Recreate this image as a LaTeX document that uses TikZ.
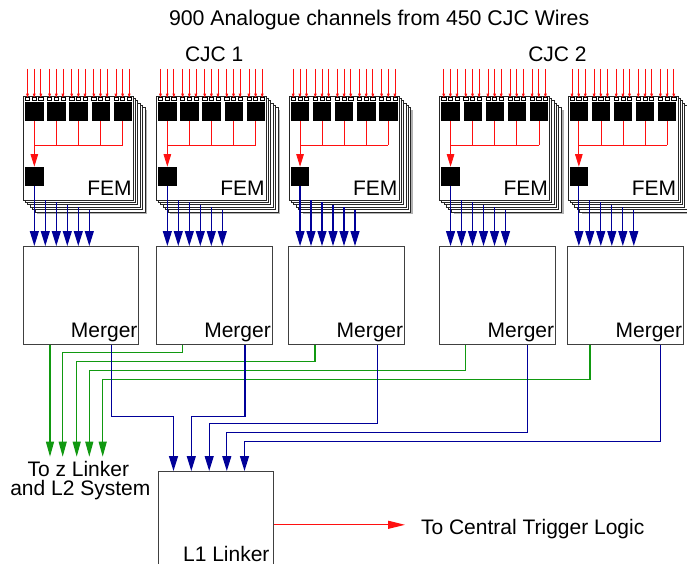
\documentclass[tikz,border=0pt]{standalone}
\usepackage{fontspec}
\setmainfont{Liberation Sans}
\usetikzlibrary{arrows.meta,calc}
\definecolor{fred}{HTML}{FF1010}
\definecolor{fblue}{HTML}{000099}
\definecolor{fgreen}{HTML}{119911}
\begin{document}
\begin{tikzpicture}[x=1pt,y=-1pt,
  lbl/.style={font=\fontsize{21}{22}\selectfont, inner sep=0pt, outer sep=0pt},
  card/.style={draw=black!85, fill=white, line width=0.7pt},
  chip/.style={fill=black, draw=none, inner sep=0pt, minimum width=18.3pt, minimum height=19pt, anchor=north west},
  pin/.style={draw=black, fill=white, line width=0.5pt},
  box/.style={draw=black!75, line width=1pt, fill=white, inner sep=0pt, anchor=north west},
  redin/.style={fred, line width=0.7pt, -{Triangle[length=4pt,width=2.6pt]}},
  redline/.style={fred, line width=0.8pt},
  redarr/.style={fred, line width=0.8pt, -{Triangle[length=12.5pt,width=7.5pt]}},
  redbig/.style={fred, line width=1.2pt, -{Triangle[length=17pt,width=8pt]}},
  bluearr/.style={fblue, line width=1.2pt, -{Triangle[length=15pt,width=9pt]}},
  greenarr/.style={fgreen, line width=1.1pt, -{Triangle[length=15pt,width=8pt]}}]
\useasboundingbox (0,0) rectangle (687,564);
\clip (0,0) rectangle (687,564);

% Merger boxes
\foreach \L [count=\i] in {22.7,156,288.3,439.3,567.3} {
  \node[box, minimum width=115.5pt, minimum height=98pt] (m\i) at (\L,246) {};
  \node[lbl, anchor=base east] at ($(m\i.south east)+(-1.7,-7.3)$) {Merger};
}

% FEM stacks
\foreach \L [count=\i] in {23,156,288.7,439.2,567.5} {
  \fill[gray!60] (\L+14.4,95.7+14.4) rectangle +(110,104.3);
  \foreach \k in {5,4,3,2,1}
    \draw[card] (\L+2.4*\k,95.7+2.4*\k) rectangle +(110,104.3);
  \node[card, line width=1pt, anchor=north west, inner sep=0pt, minimum width=110pt, minimum height=104.3pt] (f\i) at (\L,95.7) {};
  \foreach \k in {0,...,4} {
    \node[chip] (c\i\k) at (\L+2+22.1*\k,101.7) {};
    \foreach \p in {2.5,9.2,15.8} {
      \draw[pin] (\L+2+22.1*\k+\p-2.1,97.7) rectangle +(4.2,3);
      \draw[redin] (\L+2+22.1*\k+\p,69) -- (\L+2+22.1*\k+\p,97.7);
    }
  }
  \node[chip] (lc\i) at (\L+2,166.7) {};
  \foreach \k in {1,...,4}
    \draw[redline] (c\i\k.south) -- ($(c\i\k.south)+(0,24)$);
  \draw[redline] ($(c\i0.south)+(0,24)$) -- ($(c\i4.south)+(0,24)$);
  \draw[redarr] (c\i0.south) -- (lc\i.north);
  \node[lbl, anchor=base east] at (\L+108.7,195.7) {FEM};
  % FEM -> Merger
  \draw[bluearr] (lc\i.south) -- (lc\i.south |- m\i.north);
  \foreach \k in {1,...,5}
    \draw[bluearr] (\L+11.3+11*\k,200+2.4*\k-2.4) -- (\L+11.3+11*\k,246);
}

% Titles
\node[lbl, font=\fontsize{21.3}{22}\selectfont, anchor=base west] (title) at (169,26) {900 Analogue channels from 450 CJC Wires};
\node[lbl, anchor=base west] (cjc1) at (185,62) {CJC 1};
\node[lbl, anchor=base west] (cjc2) at (528.3,62) {CJC 2};

% L1 linker
\node[box, minimum width=115.3pt, minimum height=110pt] (l1) at (158,471) {};
\node[lbl, anchor=base east] (l1t) at (269.5,561) {L1 Linker};

% z linker text
\node[lbl, anchor=base] (zt1) at (78.3,476) {To z Linker};
\node[lbl, anchor=base] (zt2) at (80.3,495) {and L2 System};
\coordinate (g1) at (50,456.7);
\coordinate (g2) at (62.7,456.7);
\coordinate (g3) at (76.7,456.7);
\coordinate (g4) at (89.3,456.7);
\coordinate (g5) at (102.7,456.7);

% Green routes
\draw[greenarr] ($(m1.south west)+(27.3,0)$) -- (g1);
\draw[greenarr] ($(m2.south west)+(26.7,0)$) |- ($(g2)+(0,-104)$) -- (g2);
\draw[greenarr] ($(m3.south west)+(26.7,0)$) |- ($(g3)+(0,-95)$) -- (g3);
\draw[greenarr] ($(m4.south west)+(26.4,0)$) |- ($(g4)+(0,-86.4)$) -- (g4);
\draw[greenarr] ($(m5.south west)+(22.7,0)$) |- ($(g5)+(0,-77.4)$) -- (g5);

% Blue routes
\draw[bluearr] ($(m1.south west)+(89,0)$) |- ($(l1.north west)+(15.5,-54.3)$) -- ($(l1.north west)+(15.5,0)$);
\draw[bluearr] ($(m2.south west)+(89,0)$) |- ($(l1.north west)+(33.3,-54.3)$) -- ($(l1.north west)+(33.3,0)$);
\draw[bluearr] ($(m3.south west)+(89,0)$) |- ($(l1.north west)+(51.2,-47.7)$) -- ($(l1.north west)+(51.2,0)$);
\draw[bluearr] ($(m4.south west)+(88.4,0)$) |- ($(l1.north west)+(68.8,-38.7)$) -- ($(l1.north west)+(68.8,0)$);
\draw[bluearr] ($(m5.south west)+(93.4,0)$) |- ($(l1.north west)+(86.5,-29.7)$) -- ($(l1.north west)+(86.5,0)$);

% Output
\node[lbl, anchor=base west] (ctl) at (421,534) {To Central Trigger Logic};
\draw[redbig] ($(l1.north east)+(0,53.8)$) -- ($(ctl.base west)+(-16,-9.2)$);
\end{tikzpicture}
\end{document}
